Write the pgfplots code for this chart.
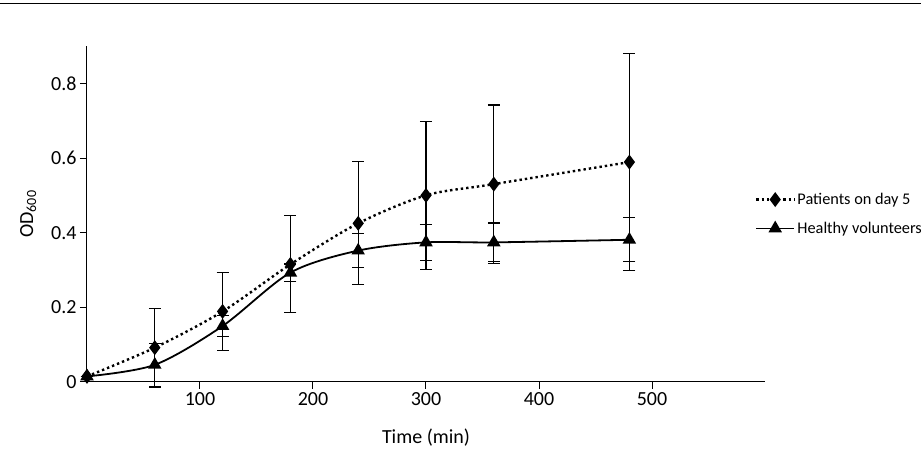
\documentclass[border=0pt]{standalone}
\usepackage{fontspec}
\setmainfont{Carlito}
\usepackage{pgfplots}
\pgfplotsset{compat=1.18}
\begin{document}
\begin{tikzpicture}[x=1pt,y=1pt]
\useasboundingbox (-87,-72) rectangle (834,382);
\draw[line width=0.8pt] (-87,379) -- (834,379);
\begin{axis}[
  at={(0,0)}, anchor=origin,
  scale only axis, width=678pt, height=336pt,
  xmin=0, xmax=600, ymin=0, ymax=0.9,
  axis x line=bottom, axis y line=left,
  axis line style={-, line width=1pt},
  xtick={100,200,300,400,500}, ytick={0,0.2,0.4,0.6,0.8},
  tick align=outside, major tick length=7pt,
  tick style={line width=1pt, black},
  /pgf/number format/assume math mode=true,
  tick label style={font=\fontsize{20pt}{22pt}\selectfont},
  label style={font=\fontsize{20pt}{22pt}\selectfont},
  yticklabel style={/pgf/number format/fixed,/pgf/number format/precision=1},
  xlabel={Time (min)}, ylabel={OD\textsubscript{600}},
  xlabel style={yshift=-16pt},
  ylabel style={yshift=8pt},
  clip=false,
  legend style={draw=none, fill=none, at={(0.985,0.5)}, anchor=west, row sep=12pt, inner sep=0pt,
    nodes={inner sep=2pt}, font=\fontsize{16.3pt}{18pt}\selectfont},
  legend cell align=left,
  legend image code/.code={
    \draw[#1] (0pt,0pt) -- (19pt,0pt) -- (38pt,0pt);
    \draw[#1, draw=none] plot coordinates {(19pt,0pt)};},
]
\addplot[black, line width=2.4pt, dash pattern=on 2.4pt off 3pt, smooth, tension=0.5, mark=diamond*, mark size=5.5pt, mark options={solid},
  error bars/.cd, y dir=both, y explicit, error bar style={line width=1.1pt, solid}, error mark options={rotate=90, mark size=6pt, line width=1.1pt}]
  table[x=x,y=y,y error=e] {
x y e
0 0.015 0
60 0.092 0.106
120 0.189 0.104
180 0.315 0.13
240 0.425 0.165
300 0.50 0.198
360 0.53 0.212
480 0.589 0.29
};
\addlegendentry{Patients on day 5}
\addplot[black, line width=1.8pt, smooth, tension=0.5, mark=triangle*, mark size=6pt,
  error bars/.cd, y dir=both, y explicit, error bar style={line width=1.1pt}, error mark options={rotate=90, mark size=6pt, line width=1.1pt}]
  table[x=x,y=y,y error=e] {
x y e
0 0.015 0
60 0.046 0.057
120 0.150 0.027
180 0.293 0.023
240 0.352 0.046
300 0.374 0.048
360 0.374 0.052
480 0.381 0.059
};
\addlegendentry{Healthy volunteers}
\end{axis}
\end{tikzpicture}
\end{document}
